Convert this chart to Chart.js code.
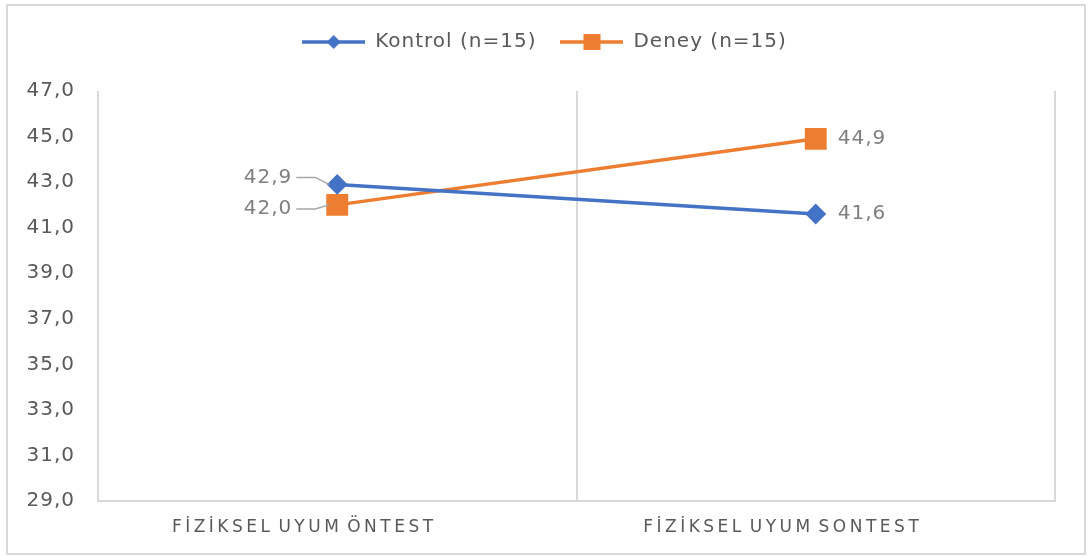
<!DOCTYPE html>
<html>
<head>
<meta charset="utf-8">
<script src="https://cdn.jsdelivr.net/npm/chart.js@4.4.0/dist/chart.umd.min.js"></script>
<style>
  html, body { margin: 0; background: #fff; }
</style>
</head>
<body>
<canvas id="chart" width="1088" height="557"></canvas>
<script>
// data
const categories = ["FİZİKSEL UYUM ÖNTEST", "FİZİKSEL UYUM SONTEST"]
const seriesNames = ["Kontrol (n=15)", "Deney (n=15)"]
const kontrolValues = [42.9, 41.6]
const deneyValues = [42.0, 44.9]
const yMin = 29, yMax = 47, yStep = 2

const BLUE = "#4472C4"
const ORANGE = "#ED7D31"
const GRID = "#d9d9d9"
const TEXT = "#595959"
const FONT = "'DejaVu Sans', sans-serif"

const fmt = v => v.toFixed(1).replace(".", ",")

// legend icon: line with marker in the middle
const legendIcon = (color, shape) => {
    const c = document.createElement("canvas")
    c.width = 63; c.height = 20
    const g = c.getContext("2d")
    g.strokeStyle = color; g.lineWidth = 3.5
    g.beginPath(); g.moveTo(0, 10); g.lineTo(63, 10); g.stroke()
    g.fillStyle = color
    g.beginPath()
    if (shape === "diamond") {
        g.moveTo(31.5, 3); g.lineTo(38.5, 10); g.lineTo(31.5, 17); g.lineTo(24.5, 10)
    } else {
        g.rect(23, 2, 17, 16)
    }
    g.fill()
    return c
}
const icons = [legendIcon(BLUE, "diamond"), legendIcon(ORANGE, "square")]

// outer border + slightly wider text like the original, and a gap under the legend
const frame = {
    id: "frame",
    afterInit(chart) {
        const lg = chart.legend
        const fit = lg.fit.bind(lg)
        lg.fit = function () { fit(); this.height += 29 }
    },
    beforeDraw(chart) {
        const ctx = chart.ctx
        ctx.letterSpacing = "1px"
        ctx.save()
        ctx.strokeStyle = GRID
        ctx.lineWidth = 2
        ctx.strokeRect(7, 5, 1078, 549)
        ctx.restore()
    }
}

// category labels with letter spacing (Chart.js ticks can't space letters)
const xLabels = {
    id: "xLabels",
    afterDraw(chart) {
        const ctx = chart.ctx, sc = chart.scales.x
        ctx.save()
        ctx.font = "17px " + FONT
        ctx.fillStyle = TEXT
        ctx.letterSpacing = "3.5px"
        ctx.wordSpacing = "-4px"
        ctx.textAlign = "center"
        ctx.textBaseline = "middle"
        categories.forEach((c, i) => {
            ctx.fillText(c, sc.getPixelForTick(i) - 33, sc.bottom + 27)
        })
        ctx.restore()
    }
}

// value labels, pre-test ones sit left of the point with a leader line
const valueLabels = {
    id: "valueLabels",
    afterDatasetsDraw(chart) {
        const ctx = chart.ctx
        ctx.save()
        ctx.font = "20px " + FONT
        ctx.fillStyle = "#7f7f7f"
        ctx.textBaseline = "middle"
        chart.data.datasets.forEach((ds, di) => {
            chart.getDatasetMeta(di).data.forEach((pt, i) => {
                const txt = fmt(ds.data[i])
                if (i === 0) {
                    const ty = pt.y + (di === 0 ? -7 : 4)
                    ctx.textAlign = "right"
                    ctx.fillText(txt, pt.x - 45, ty)
                    ctx.strokeStyle = "#a6a6a6"
                    ctx.lineWidth = 1.5
                    ctx.beginPath()
                    ctx.moveTo(pt.x - 41, ty)
                    ctx.lineTo(pt.x - 22, ty)
                    ctx.lineTo(pt.x - 8, pt.y)
                    ctx.stroke()
                } else {
                    ctx.textAlign = "left"
                    ctx.fillText(txt, pt.x + 22, pt.y)
                }
            })
        })
        ctx.restore()
    }
}

new Chart(document.getElementById("chart"), {
    type: "line",
    data: {
        labels: categories,
        datasets: [{
            label: seriesNames[0],
            data: kontrolValues,
            borderColor: BLUE,
            backgroundColor: BLUE,
            borderWidth: 3.5,
            pointStyle: "rectRot",
            pointRadius: 8,
            pointHoverRadius: 8
        }, {
            label: seriesNames[1],
            data: deneyValues,
            borderColor: ORANGE,
            backgroundColor: ORANGE,
            borderWidth: 3.5,
            pointStyle: "rect",
            pointRadius: 13,
            pointHoverRadius: 13
        }]
    },
    options: {
        responsive: false,
        animation: false,
        layout: { padding: { left: 8, right: 33, top: 8, bottom: 56 } },
        plugins: {
            tooltip: { enabled: false },
            legend: {
                labels: {
                    usePointStyle: true,
                    pointStyleWidth: 63,
                    padding: 24,
                    color: TEXT,
                    font: { family: FONT, size: 20 },
                    generateLabels: (chart) => {
                        const items = Chart.defaults.plugins.legend.labels.generateLabels(chart)
                        items.forEach((it, i) => { it.pointStyle = icons[i] })
                        return items
                    }
                }
            }
        },
        scales: {
            x: {
                offset: true,
                ticks: { display: false },
                grid: { offset: true, color: GRID, lineWidth: 2, drawTicks: false },
                border: { color: GRID, width: 2 },
                afterFit: (s) => { s.height = 0 }
            },
            y: {
                min: yMin,
                max: yMax,
                ticks: {
                    stepSize: yStep,
                    padding: 23,
                    color: TEXT,
                    font: { family: FONT, size: 20 },
                    callback: v => fmt(v)
                },
                grid: { display: false, drawTicks: false },
                border: { display: false },
                afterFit: (s) => { s.width = 90 }
            }
        }
    },
    plugins: [frame, xLabels, valueLabels]
})
</script>
</body>
</html>
